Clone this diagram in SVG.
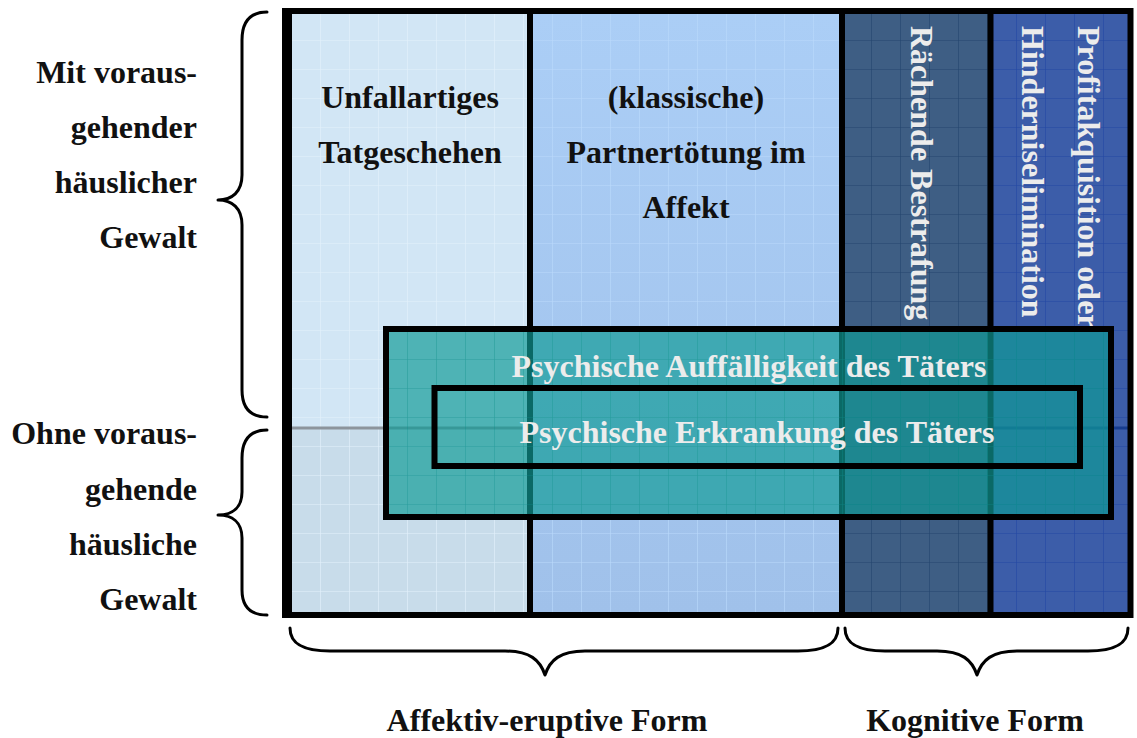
<svg xmlns="http://www.w3.org/2000/svg" width="1137" height="738" viewBox="0 0 1137 738">
<style>
.t{font-family:"Liberation Serif","Times New Roman",serif;font-weight:bold;font-size:32px}
.dk{fill:#111111}
.lt{fill:#ECECEC}
.brace{fill:none;stroke:#000;stroke-width:3;stroke-linecap:round;stroke-linejoin:round}
.blk{stroke:#000;stroke-width:6;fill:none}
</style>
<defs>
<pattern id="gLight" patternUnits="userSpaceOnUse" x="1" y="11" width="29" height="29">
<path d="M0 0H29M0 0V29" stroke="#E4F2FC" stroke-width="1.2" fill="none"/>
</pattern>
<pattern id="gBlue" patternUnits="userSpaceOnUse" x="1" y="11" width="29" height="29">
<path d="M0 0H29M0 0V29" stroke="#BBDAFB" stroke-width="1.2" fill="none"/>
</pattern>
<pattern id="gSlate" patternUnits="userSpaceOnUse" x="1" y="11" width="29" height="29">
<path d="M0 0H29M0 0V29" stroke="#23446E" stroke-width="1.2" fill="none"/>
</pattern>
<pattern id="gRoyal" patternUnits="userSpaceOnUse" x="1" y="11" width="29" height="29">
<path d="M0 0H29M0 0V29" stroke="#2247A3" stroke-width="1.2" fill="none"/>
</pattern>
<pattern id="gTeal" patternUnits="userSpaceOnUse" x="1" y="11" width="29" height="29">
<path d="M0 0H29M0 0V29" stroke="#0E8C8A" stroke-width="1.2" stroke-opacity="0.6" fill="none"/>
</pattern>
<linearGradient id="col2grad" x1="0" y1="0" x2="0" y2="1">
<stop offset="0" stop-color="#ABCEF6"/>
<stop offset="1" stop-color="#A0C1EA"/>
</linearGradient>
</defs>

<g id="col-unfall">
<rect x="292" y="14" width="235" height="414" fill="#D2E6F5"/>
<rect x="292" y="428" width="235" height="184" fill="#C8DCEA"/>
<rect x="292" y="14" width="235" height="598" fill="url(#gLight)"/>
<line x1="292" y1="428" x2="527" y2="428" stroke="#8C949C" stroke-width="3"/>
<text class="t dk" x="410" y="108" text-anchor="middle">Unfallartiges</text>
<text class="t dk" x="410" y="163" text-anchor="middle">Tatgeschehen</text>
</g>

<g id="col-partner">
<rect x="533" y="14" width="306" height="598" fill="url(#col2grad)"/>
<rect x="533" y="14" width="306" height="598" fill="url(#gBlue)"/>
<text class="t dk" x="686" y="108" text-anchor="middle">(klassische)</text>
<text class="t dk" x="686" y="163" text-anchor="middle">Partnertötung im</text>
<text class="t dk" x="686" y="218" text-anchor="middle">Affekt</text>
</g>

<g id="col-raechende">
<rect x="845" y="14" width="143" height="598" fill="#3E5E84"/>
<rect x="845" y="14" width="143" height="598" fill="url(#gSlate)"/>
<text class="t lt" transform="translate(911,26) rotate(90)" x="0" y="0">Rächende Bestrafung</text>
</g>

<g id="col-profit">
<rect x="993" y="14" width="135" height="598" fill="#3C5DA9"/>
<rect x="993" y="14" width="135" height="598" fill="url(#gRoyal)"/>
<line x1="993" y1="428" x2="1128" y2="428" stroke="#163C8E" stroke-width="3"/>
<text class="t lt" transform="translate(1078,26) rotate(90)" x="0" y="0">Profitakquisition oder</text>
<text class="t lt" transform="translate(1022,26) rotate(90)" x="0" y="0">Hinderniselimination</text>
</g>

<g id="frame">
<rect class="blk" x="285" y="11" width="845.5" height="604"/>
<rect x="282" y="8" width="10" height="610" fill="#000"/>
<line class="blk" x1="530" y1="11" x2="530" y2="615"/>
<line class="blk" x1="842" y1="11" x2="842" y2="615"/>
<line class="blk" x1="990.5" y1="11" x2="990.5" y2="615"/>
</g>

<g id="overlay-auffaelligkeit">
<rect x="386" y="329" width="725" height="188" fill="rgb(15,155,150)" fill-opacity="0.68"/>
<rect x="386" y="329" width="725" height="188" fill="url(#gTeal)"/>
<rect class="blk" x="386" y="329" width="725" height="188"/>
<text class="t lt" x="749" y="377" text-anchor="middle">Psychische Auffälligkeit des Täters</text>
</g>

<g id="overlay-erkrankung">
<rect class="blk" x="434.5" y="388" width="645.5" height="78" fill="rgb(10,150,150)" fill-opacity="0.75"/>
<text class="t lt" x="757" y="443" text-anchor="middle">Psychische Erkrankung des Täters</text>
</g>

<g id="connectors">
<path class="brace" d="M267,12 C250,12 242,22 242,40 L242,175 C242,192 232,200 218,200 C232,200 242,208 242,225 L242,390 C242,408 250,417 267,417"/>
<path class="brace" d="M267,430 C250,430 242,440 242,458 L242,492 C242,508 232,515 218,515 C232,515 242,522 242,538 L242,590 C242,606 250,615 267,615"/>
<path class="brace" d="M290,628 C290,645 305,651 330,651 L505,651 C530,651 540,660 545,675 C550,660 560,651 585,651 L798,651 C823,651 838,645 838,628"/>
<path class="brace" d="M845,628 C845,645 860,651 885,651 L937,651 C962,651 972,660 977,675 C982,660 992,651 1017,651 L1088,651 C1113,651 1128,645 1128,628"/>
</g>

<g id="label-mit">
<text class="t dk" x="197" y="83" text-anchor="end">Mit voraus-</text>
<text class="t dk" x="197" y="138" text-anchor="end">gehender</text>
<text class="t dk" x="197" y="193" text-anchor="end">häuslicher</text>
<text class="t dk" x="197" y="248" text-anchor="end">Gewalt</text>
</g>
<g id="label-ohne">
<text class="t dk" x="197" y="444" text-anchor="end">Ohne voraus-</text>
<text class="t dk" x="197" y="500" text-anchor="end">gehende</text>
<text class="t dk" x="197" y="555" text-anchor="end">häusliche</text>
<text class="t dk" x="197" y="610" text-anchor="end">Gewalt</text>
</g>
<g id="label-affektiv">
<text class="t dk" x="547" y="731" text-anchor="middle">Affektiv-eruptive Form</text>
</g>
<g id="label-kognitiv">
<text class="t dk" x="975" y="731" text-anchor="middle">Kognitive Form</text>
</g>
</svg>
